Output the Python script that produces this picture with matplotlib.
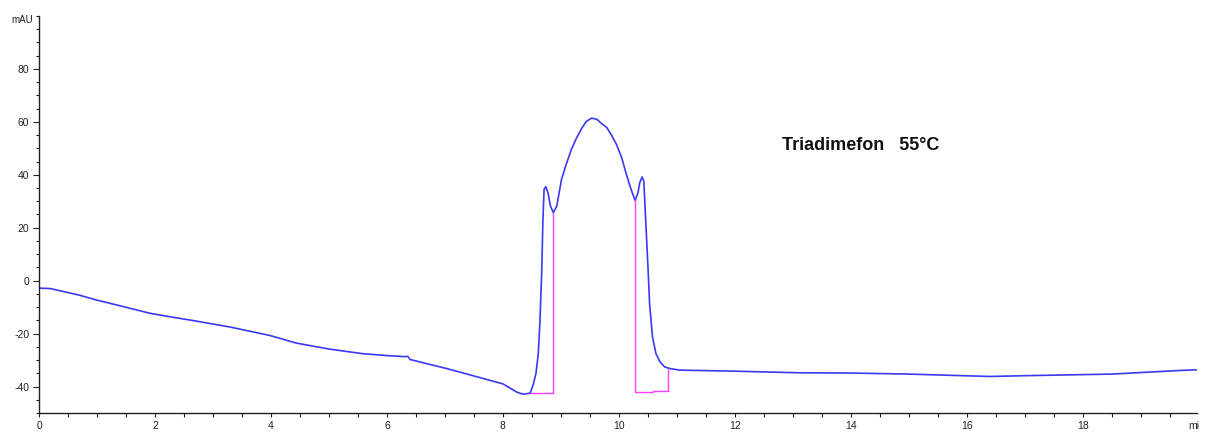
import matplotlib
matplotlib.use("Agg")
import matplotlib.pyplot as plt
from matplotlib.ticker import MultipleLocator

plt.rcParams['font.family'] = ['Liberation Sans', 'DejaVu Sans']
plt.rcParams['axes.unicode_minus'] = False

# UV trace (mAU) against retention time (min)
time_min = [0.0, 0.2, 0.42, 0.7, 0.99, 1.4, 1.91, 2.3, 2.72, 3.29, 3.98, 4.44,
            5.02, 5.59, 6.0, 6.3, 6.36, 6.4, 7.03, 7.6, 8.0, 8.24, 8.35, 8.47,
            8.52, 8.57, 8.61, 8.64, 8.67, 8.69, 8.71, 8.74, 8.78, 8.82, 8.87,
            8.93, 9.01, 9.10, 9.18, 9.27, 9.36, 9.44, 9.53, 9.62, 9.70, 9.79,
            9.87, 9.96, 10.05, 10.13, 10.21, 10.28, 10.33, 10.36, 10.40, 10.43,
            10.46, 10.50, 10.53, 10.58, 10.64, 10.71, 10.79, 10.88, 11.05,
            12.0, 13.1, 14.0, 15.0, 16.4, 17.0, 18.5, 19.7, 19.97]
signal_mau = [-2.8, -3.0, -4.1, -5.5, -7.3, -9.5, -12.3, -13.8, -15.3, -17.5,
              -20.7, -23.6, -25.9, -27.6, -28.3, -28.7, -28.6, -29.8, -33.2,
              -36.6, -39.0, -42.1, -42.9, -42.5,
              -39.5, -35.1, -27.6, -15.0, 3.8, 22.6, 34.5, 35.5, 33.0, 28.2, 25.7,
              28.2, 38.2, 44.5, 49.5, 53.9, 57.6, 60.2, 61.4, 61.0, 59.4, 57.9,
              55.1, 51.4, 46.4, 40.1, 34.5, 30.3, 33.2, 37.0, 39.2, 37.6,
              24.0, 6.0, -8.8, -21.3, -27.6, -30.7, -32.6, -33.2, -33.8,
              -34.2, -34.8, -34.9, -35.3, -36.2, -35.9, -35.3, -33.9, -33.7]

# integration baselines drawn by the data system
base1_t = [8.49, 8.87, 8.87]
base1_v = [-42.6, -42.6, 25.7]
base2_t = [10.28, 10.28, 10.58, 10.58, 10.85, 10.85]
base2_v = [30.3, -42.2, -42.2, -41.6, -41.6, -33.4]

x_ticks = [0, 2, 4, 6, 8, 10, 12, 14, 16, 18]
y_ticks = [-40, -20, 0, 20, 40, 60, 80]

fig = plt.figure(figsize=(12.05, 4.37), dpi=100)
ax = fig.add_axes([39 / 1205, 24 / 437, 1158 / 1205, 397 / 437])

ax.plot(time_min, signal_mau, color='#3a3af0', lw=1.2)
ax.plot(base1_t, base1_v, color='#ff3cff', lw=1.0)
ax.plot(base2_t, base2_v, color='#ff3cff', lw=1.0)

ax.set_xlim(0, 19.97)
ax.set_ylim(-50, 100)
ax.set_xticks(x_ticks)
ax.set_yticks(y_ticks)
ax.xaxis.set_minor_locator(MultipleLocator(0.5))
ax.yaxis.set_minor_locator(MultipleLocator(5))

for side in ('top', 'right'):
    ax.spines[side].set_visible(False)
for side in ('left', 'bottom'):
    ax.spines[side].set_color('#222222')
    ax.spines[side].set_linewidth(1.0)

ax.tick_params(which='major', length=4, width=0.8, colors='#222222',
               labelsize=7.5, pad=3)
ax.tick_params(which='minor', length=2.5, width=0.8, colors='#222222')
ax.tick_params(axis='x', which='both', length=3)

ax.annotate('mAU', xy=(0, 100), xytext=(-4.5, -3), textcoords='offset points',
            ha='right', va='center', fontsize=7, color='#222222')
ax.annotate('mi', xy=(19.97, -50), xytext=(-6, -9.5), textcoords='offset points',
            ha='left', va='center', fontsize=7.5, color='#222222')

ax.text(12.82, 49.5, 'Triadimefon   55°C', fontsize=13, fontweight='bold',
        color='#111111', ha='left', va='baseline')

fig.savefig('out.png', dpi=100)
